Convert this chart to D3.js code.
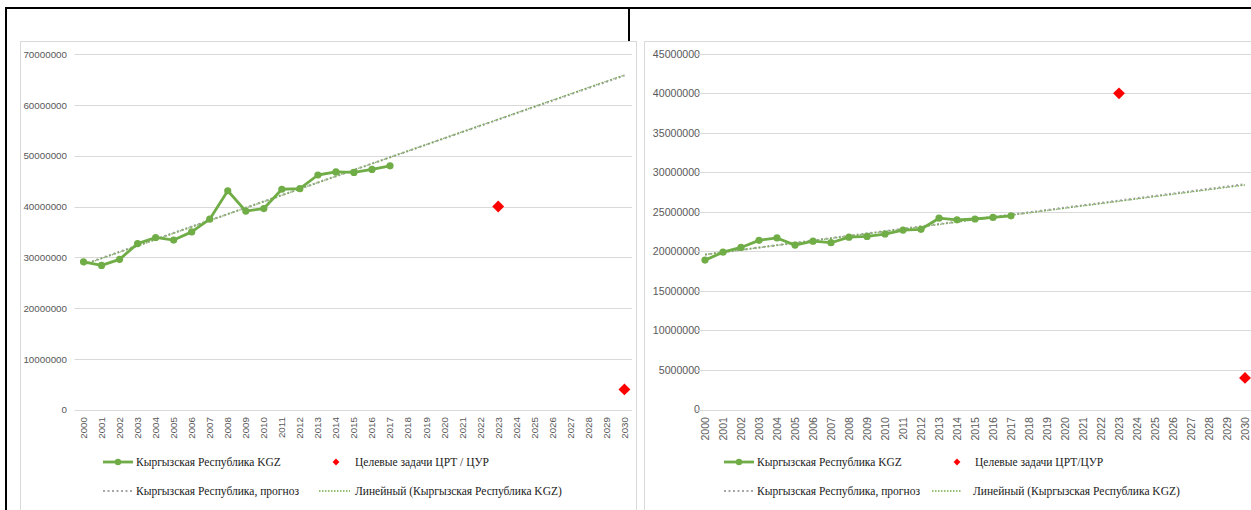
<!DOCTYPE html>
<html><head><meta charset="utf-8">
<script src="https://cdn.jsdelivr.net/npm/d3@7/dist/d3.min.js"></script>
<style>
html,body{margin:0;padding:0;background:#fff;}
svg{display:block;}
</style></head>
<body>
<svg id="c" width="1251" height="510"></svg>
<script>
// ---------- data ----------
const years = d3.range(2000, 2031).map(String);
const dataYears = d3.range(2000, 2018).map(String);

const leftValues = [29.1e6, 28.4e6, 29.6e6, 32.7e6, 33.9e6, 33.4e6, 35.0e6, 37.5e6, 43.1e6,
  39.1e6, 39.6e6, 43.4e6, 43.5e6, 46.2e6, 46.8e6, 46.7e6, 47.3e6, 48.0e6];
const rightValues = [18.9e6, 19.9e6, 20.5e6, 21.4e6, 21.7e6, 20.8e6, 21.3e6, 21.1e6, 21.8e6,
  21.9e6, 22.2e6, 22.7e6, 22.8e6, 24.2e6, 24.0e6, 24.1e6, 24.3e6, 24.5e6];

const targetYears = ["2023", "2030"];
const leftTargets = [40e6, 4e6];
const rightTargets = [40e6, 4e6];

const forecastYears = ["2000", "2030"];
const leftForecast = [28.6e6, 65.8e6];
const rightForecast = [19.6e6, 28.5e6];
const leftTrend = [28.5e6, 65.9e6];
const rightTrend = [19.6e6, 28.4e6];

const leftTicks = [0, 10e6, 20e6, 30e6, 40e6, 50e6, 60e6, 70e6];
const rightTicks = [0, 5e6, 10e6, 15e6, 20e6, 25e6, 30e6, 35e6, 40e6, 45e6];

const legendLabels = {
  main: "Кыргызская Республика KGZ",
  forecast: "Кыргызская Республика, прогноз",
  trend: "Линейный (Кыргызская Республика KGZ)"
};
const targetLabelLeft = "Целевые задачи ЦРТ / ЦУР";
const targetLabelRight = "Целевые задачи ЦРТ/ЦУР";

// ---------- drawing ----------
const svg = d3.select("#c");
const GREEN = "#70ad47", RED = "#ff0000", GRID = "#d9d9d9", TXT = "#595959";

// outer black frame (table borders)
svg.append("line").attr("x1", 5).attr("x2", 1251).attr("y1", 8).attr("y2", 8)
  .attr("stroke", "#000").attr("stroke-width", 2);
svg.append("line").attr("x1", 6).attr("x2", 6).attr("y1", 7).attr("y2", 510)
  .attr("stroke", "#000").attr("stroke-width", 2);
svg.append("line").attr("x1", 629).attr("x2", 629).attr("y1", 7).attr("y2", 60)
  .attr("stroke", "#000").attr("stroke-width", 2);

function drawChart(cfg) {
  const g = svg.append("g");
  g.append("rect").attr("x", cfg.frame[0] + 0.5).attr("y", cfg.frame[1] + 0.5)
    .attr("width", cfg.frame[2]).attr("height", cfg.frame[3])
    .attr("fill", "#fff").attr("stroke", GRID).attr("stroke-width", 1);

  const x = d3.scaleBand().domain(years).range(cfg.xRange).padding(0);
  const cx = d => x(d) + x.bandwidth() / 2;
  const y = d3.scaleLinear().domain([0, cfg.yMax]).range(cfg.yRange);

  // y labels + gridlines
  const yAxis = d3.axisLeft(y).tickValues(cfg.ticks).tickSize(0).tickPadding(0)
    .tickFormat(d3.format("d"));
  const ya = g.append("g").attr("transform", `translate(${cfg.labelX},0)`).call(yAxis);
  ya.select(".domain").remove();
  ya.selectAll("text").attr("fill", TXT).attr("font-family", "Liberation Sans, Arial, sans-serif")
    .attr("font-size", cfg.fs + "px");
  g.append("g").selectAll("line").data(cfg.ticks).join("line")
    .attr("x1", cfg.xRange[0]).attr("x2", cfg.gridEnd)
    .attr("y1", d => Math.round(y(d)) + 0.5).attr("y2", d => Math.round(y(d)) + 0.5)
    .attr("stroke", GRID).attr("stroke-width", 1);

  // x axis labels
  const xAxis = d3.axisBottom(x).tickSize(0).tickPadding(0);
  const xa = g.append("g").attr("transform", `translate(0,${cfg.xLabelY})`).call(xAxis);
  xa.select(".domain").remove();
  xa.selectAll("text").attr("fill", TXT).attr("font-family", "Liberation Sans, Arial, sans-serif")
    .attr("font-size", cfg.fs + "px")
    .attr("transform", "rotate(-90)").attr("text-anchor", "end")
    .attr("x", 0).attr("y", 0).attr("dy", "0.35em");

  // forecast (gray dotted) and linear trend (green dotted)
  const fLine = d3.line().x((d, i) => cx(forecastYears[i])).y(d => y(d));
  g.append("path").attr("d", fLine(cfg.forecast)).attr("fill", "none")
    .attr("stroke", "#a5a5a5").attr("stroke-width", 2.2).attr("stroke-dasharray", "2,2.5");
  g.append("path").attr("d", fLine(cfg.trend)).attr("fill", "none")
    .attr("stroke", GREEN).attr("stroke-width", 1.3).attr("stroke-dasharray", "1.5,1.5")
    .attr("stroke-opacity", 0.9);

  // main series
  const line = d3.line().x((d, i) => cx(dataYears[i])).y(d => y(d));
  g.append("path").attr("d", line(cfg.values)).attr("fill", "none")
    .attr("stroke", GREEN).attr("stroke-width", 2.8).attr("stroke-linejoin", "round");
  g.append("g").selectAll("circle").data(cfg.values).join("circle")
    .attr("cx", (d, i) => cx(dataYears[i])).attr("cy", d => y(d)).attr("r", 3.6)
    .attr("fill", GREEN);

  // targets
  const diamond = d3.symbol().type(d3.symbolDiamond2).size(90);
  g.append("g").selectAll("path").data(cfg.targets).join("path")
    .attr("d", diamond)
    .attr("transform", (d, i) => `translate(${cx(targetYears[i])},${y(d)})`)
    .attr("fill", RED);

  // legend
  const L = cfg.legend;
  const lg = g.append("g").attr("font-family", "Liberation Serif, 'Times New Roman', serif")
    .attr("font-size", "11.5px").attr("fill", "#1a1a1a");
  lg.append("line").attr("x1", L.s1[0]).attr("x2", L.s1[1]).attr("y1", L.r1).attr("y2", L.r1)
    .attr("stroke", GREEN).attr("stroke-width", 2.8);
  lg.append("circle").attr("cx", (L.s1[0] + L.s1[1]) / 2).attr("cy", L.r1).attr("r", 3.2).attr("fill", GREEN);
  lg.append("text").attr("x", L.t1).attr("y", L.r1).attr("dy", "0.35em").text(legendLabels.main);
  lg.append("path").attr("d", d3.symbol().type(d3.symbolDiamond2).size(30))
    .attr("transform", `translate(${L.d},${L.r1})`).attr("fill", RED);
  lg.append("text").attr("x", L.t2).attr("y", L.r1).attr("dy", "0.35em").text(cfg.targetLabel);
  lg.append("line").attr("x1", L.s1[0]).attr("x2", L.s1[1]).attr("y1", L.r2).attr("y2", L.r2)
    .attr("stroke", "#a5a5a5").attr("stroke-width", 2).attr("stroke-dasharray", "2,2.5");
  lg.append("text").attr("x", L.t1).attr("y", L.r2).attr("dy", "0.35em").text(legendLabels.forecast);
  lg.append("line").attr("x1", L.s2[0]).attr("x2", L.s2[1]).attr("y1", L.r2).attr("y2", L.r2)
    .attr("stroke", GREEN).attr("stroke-width", 1.3).attr("stroke-dasharray", "1.5,1.5");
  lg.append("text").attr("x", L.t3).attr("y", L.r2).attr("dy", "0.35em").text(legendLabels.trend);
}

drawChart({
  frame: [20, 41, 616, 480],
  xRange: [74.5, 74.5 + 31 * 18.03],
  gridEnd: 632,
  yMax: 70e6, yRange: [409.7, 54.1], ticks: leftTicks, labelX: 67, fs: 9.8,
  xLabelY: 417,
  values: leftValues, targets: leftTargets, forecast: leftForecast, trend: leftTrend,
  targetLabel: targetLabelLeft,
  legend: { r1: 462, r2: 491, s1: [103, 133], t1: 136, d: 336, t2: 355, s2: [319, 350], t3: 355 }
});

drawChart({
  frame: [644, 41, 620, 480],
  xRange: [696, 696 + 31 * 18.0],
  gridEnd: 1260,
  yMax: 45e6, yRange: [409.5, 53.8], ticks: rightTicks, labelX: 700, fs: 10.6,
  xLabelY: 417,
  values: rightValues, targets: rightTargets, forecast: rightForecast, trend: rightTrend,
  targetLabel: targetLabelRight,
  legend: { r1: 462, r2: 491, s1: [724, 754], t1: 757, d: 957, t2: 975, s2: [932, 962], t3: 973 }
});
</script>
</body></html>
